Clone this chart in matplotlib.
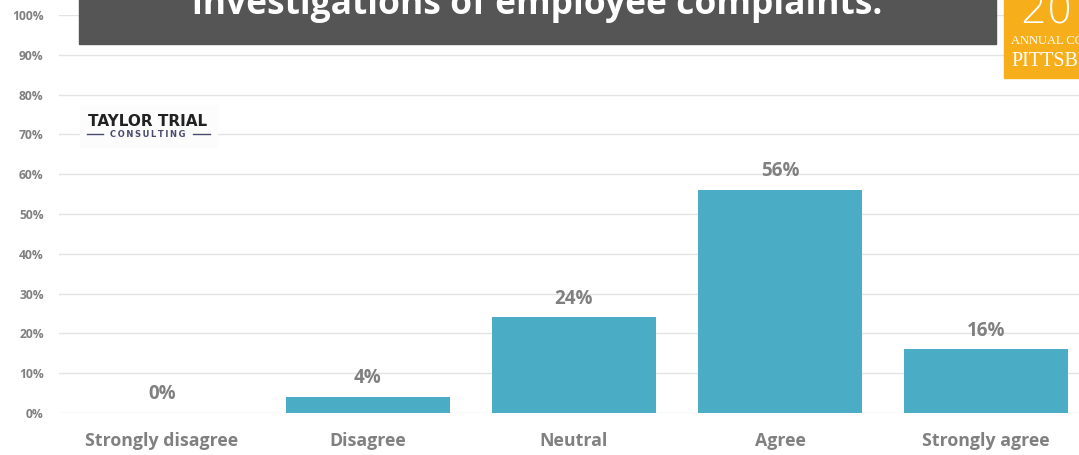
import matplotlib.pyplot as plt
from matplotlib.patches import Rectangle
from matplotlib.lines import Line2D

categories = ['Strongly disagree', 'Disagree', 'Neutral', 'Agree', 'Strongly agree']
shares = [0, 4, 24, 56, 16]
yticks = [0, 10, 20, 30, 40, 50, 60, 70, 80, 90, 100]

bar_col = '#4BACC6'
txt_col = '#808080'
W, H = 1079, 455

plt.rcParams['font.family'] = ['Open Sans', 'DejaVu Sans']

fig = plt.figure(figsize=(W / 100, H / 100), dpi=100)
ax = fig.add_axes([59 / W, 42 / H, 1030 / W, 398 / H])

x = range(len(categories))
ax.bar(x, shares, width=0.8, color=bar_col, zorder=2)
for i, v in enumerate(shares):
    ax.annotate(f'{v}%', (i, v), xytext=(0, 13.5), textcoords='offset points',
                ha='center', va='center', fontsize=13.5, fontweight='bold', color=txt_col)

ax.set_xlim(-0.5, len(categories) - 0.5)
ax.set_ylim(0, 100)
ax.set_yticks(yticks)
ax.set_yticklabels([f'{t}%' for t in yticks], fontsize=8.7, fontweight='bold', color=txt_col)
ax.set_xticks(list(x))
ax.set_xticklabels(categories, fontsize=12.8, fontweight='bold', color=txt_col)
ax.tick_params(length=0)
ax.tick_params(axis='x', pad=14)
ax.tick_params(axis='y', pad=11)
ax.grid(axis='y', color='#e3e3e3', linewidth=1, zorder=0)
for s in ax.spines.values():
    s.set_visible(False)

# title banner, cut off at the top
fig.patches.append(Rectangle((79 / W, 1 - 44 / H), (996 - 79) / W, 0.2,
                             transform=fig.transFigure, color='#555555', zorder=5))
fig.text(537 / W, 1 - 14 / H, 'investigations of employee complaints.', ha='center',
         va='baseline', fontsize=25.5, fontweight='bold', color='white', zorder=6)

# conference badge
fig.patches.append(Rectangle((1004 / W, 1 - 78 / H), 0.1, 0.2,
                             transform=fig.transFigure, color='#F6AE1B', zorder=5))
fig.text(1020 / W, 1 - 23 / H, '20', ha='left', va='baseline', fontsize=30,
         fontweight='light', color='white', family='DejaVu Sans', zorder=6)
fig.text(1011 / W, 1 - 44 / H, 'ANNUAL CONFERENCE', ha='left', va='baseline', fontsize=9,
         color='white', family='Liberation Serif', zorder=6)
fig.text(1011 / W, 1 - 66 / H, 'PITTSBURGH', ha='left', va='baseline', fontsize=14.5,
         color='white', family='Liberation Serif', zorder=6)

# company logo
fig.patches.append(Rectangle((80 / W, 1 - 147 / H), 137 / W, 42 / H,
                             transform=fig.transFigure, color='#fcfcfc', zorder=5))
fig.text(148 / W, 1 - 126 / H, 'TAYLOR TRIAL', ha='center', va='baseline', fontsize=11,
         fontweight='bold', color='#222222', family='DejaVu Sans', zorder=6)
fig.text(148 / W, 1 - 137 / H, '\u2009'.join('CONSULTING'), ha='center', va='baseline',
         fontsize=6, fontweight='bold', color='#4a4a70', family='DejaVu Sans', zorder=6)
for x0, x1 in [(87, 103), (193, 210)]:
    fig.add_artist(Line2D([x0 / W, x1 / W], [1 - 134 / H, 1 - 134 / H], color='#4a4a70',
                          linewidth=1, transform=fig.transFigure, zorder=6))

fig.savefig('out.png', dpi=100)
